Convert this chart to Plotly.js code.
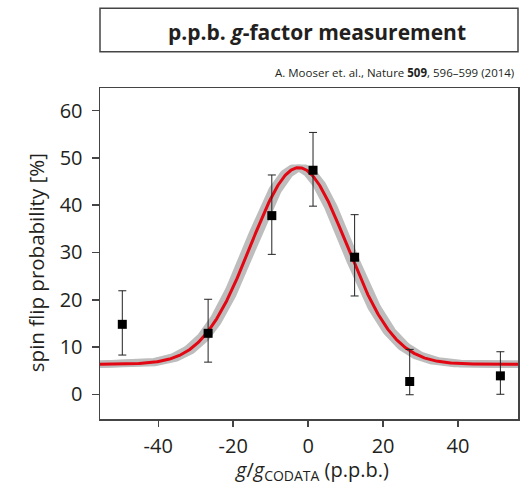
<!DOCTYPE html>
<html>
<head>
<meta charset="utf-8">
<script src="https://cdn.plot.ly/plotly-3.0.1.min.js"></script>
<style>html,body{margin:0;padding:0;background:#fff;}#chart{width:527px;height:485px;}</style>
</head>
<body>
<div id="chart"></div>
<script>
// measured data points (g/g_CODATA in p.p.b., spin flip probability in %)
const detuning = [-49.6, -26.7, -9.7, 1.3, 12.4, 27.1, 51.3];
const flipProb = [14.8, 12.9, 37.8, 47.4, 29.0, 2.7, 3.9];
const errPlus  = [7.1, 7.2, 8.6, 8.0, 9.0, 6.8, 5.1];
const errMinus = [6.5, 6.1, 8.2, 7.6, 8.2, 2.8, 3.9];

// fitted line shape parameters
const fitBaseline = 6.35;
const fitAmplitude = 41.6;
const fitCenter = -2.5;
const fitSigma = 12.8;
const fitCenterUncertainty = 0.8;

const xTickVals = [-40, -20, 0, 20, 40];
const xTickText = ['-40', '-20', '0', '20', '40'];
const yTickVals = [0, 10, 20, 30, 40, 50, 60];
const yTickText = ['0', '10', '20', '30', '40', '50', '60'];

function gauss(x, c) {
  return fitBaseline + fitAmplitude * Math.exp(-((x - c) * (x - c)) / (2 * fitSigma * fitSigma));
}
const curveX = [];
for (let i = 0; i <= 560; i++) curveX.push(-56 + i * 0.2);
const curveY = curveX.map(x => gauss(x, fitCenter));
const bandLoY = curveX.map(x => gauss(x, fitCenter - fitCenterUncertainty));
const bandHiY = curveX.map(x => gauss(x, fitCenter + fitCenterUncertainty));

const font = "'Open Sans', 'DejaVu Sans', sans-serif";
const txt = '#231f20';

const traces = [
  {x: curveX, y: bandLoY, mode: 'lines', line: {color: '#bdbdbd', width: 7.5}, hoverinfo: 'skip', showlegend: false},
  {x: curveX, y: bandHiY, mode: 'lines', line: {color: '#bdbdbd', width: 7.5}, hoverinfo: 'skip', showlegend: false},
  {x: curveX, y: curveY, mode: 'lines', line: {color: '#e30613', width: 3}, hoverinfo: 'skip', showlegend: false},
  {x: detuning, y: flipProb, mode: 'markers', type: 'scatter',
   marker: {symbol: 'square', size: 9, color: '#000'},
   error_y: {type: 'data', symmetric: false, array: errPlus, arrayminus: errMinus, color: '#222', thickness: 1, width: 4},
   showlegend: false}
];

const layout = {
  width: 527, height: 485,
  margin: {l: 100, r: 9, t: 88, b: 66},
  paper_bgcolor: '#fff', plot_bgcolor: '#fff',
  font: {family: font, color: txt, size: 20},
  xaxis: {
    range: [-55.55, 56.0], tickvals: xTickVals, ticktext: xTickText, ticks: 'outside', ticklen: 6, tickwidth: 1.5, tickcolor: '#444',
    ticklabelstandoff: 2,
    showline: true, linecolor: '#444', linewidth: 1.5, mirror: true, showgrid: false, zeroline: false,
    tickfont: {family: font, size: 20, color: txt}
  },
  yaxis: {
    range: [-5.23, 64.8], tickvals: yTickVals, ticktext: yTickText, ticks: 'outside', ticklen: 7, tickwidth: 1.5, tickcolor: '#444',
    ticklabelstandoff: 5,
    showline: true, linecolor: '#444', linewidth: 1.5, mirror: true, showgrid: false, zeroline: false,
    tickfont: {family: font, size: 20, color: txt}
  },
  shapes: [
    {type: 'rect', xref: 'paper', yref: 'paper', x0: 0, x1: 1, y0: 1.1097, y1: 1.2408,
     line: {color: '#444', width: 1.5}, fillcolor: 'rgba(0,0,0,0)'}
  ],
  annotations: [
    {xref: 'paper', yref: 'paper', x: 0.518, y: 1.170, text: '<b>p.p.b. <i>g</i>-factor measurement</b>',
     showarrow: false, xanchor: 'center', yanchor: 'middle', font: {family: font, size: 21, color: txt}},
    {xref: 'paper', yref: 'paper', x: 0.996, y: 1.047, text: 'A. Mooser et. al., Nature <b>509</b>, 596–599 (2014)',
     showarrow: false, xanchor: 'right', yanchor: 'middle', font: {family: font, size: 11.5, color: txt}},
    {xref: 'paper', yref: 'paper', x: -0.153, y: 0.471, text: 'spin flip probability [%]', textangle: -90,
     showarrow: false, xanchor: 'center', yanchor: 'middle', font: {family: font, size: 20.5, color: txt}},
    {xref: 'paper', yref: 'paper', x: 0.508, y: -0.155, text: '<i>g</i>/<i>g</i><sub>CODATA</sub> (p.p.b.)',
     showarrow: false, xanchor: 'center', yanchor: 'middle', borderpad: 0, font: {family: font, size: 20, color: txt}}
  ]
};

Plotly.newPlot('chart', traces, layout, {displayModeBar: false, staticPlot: true});
</script>
</body>
</html>
